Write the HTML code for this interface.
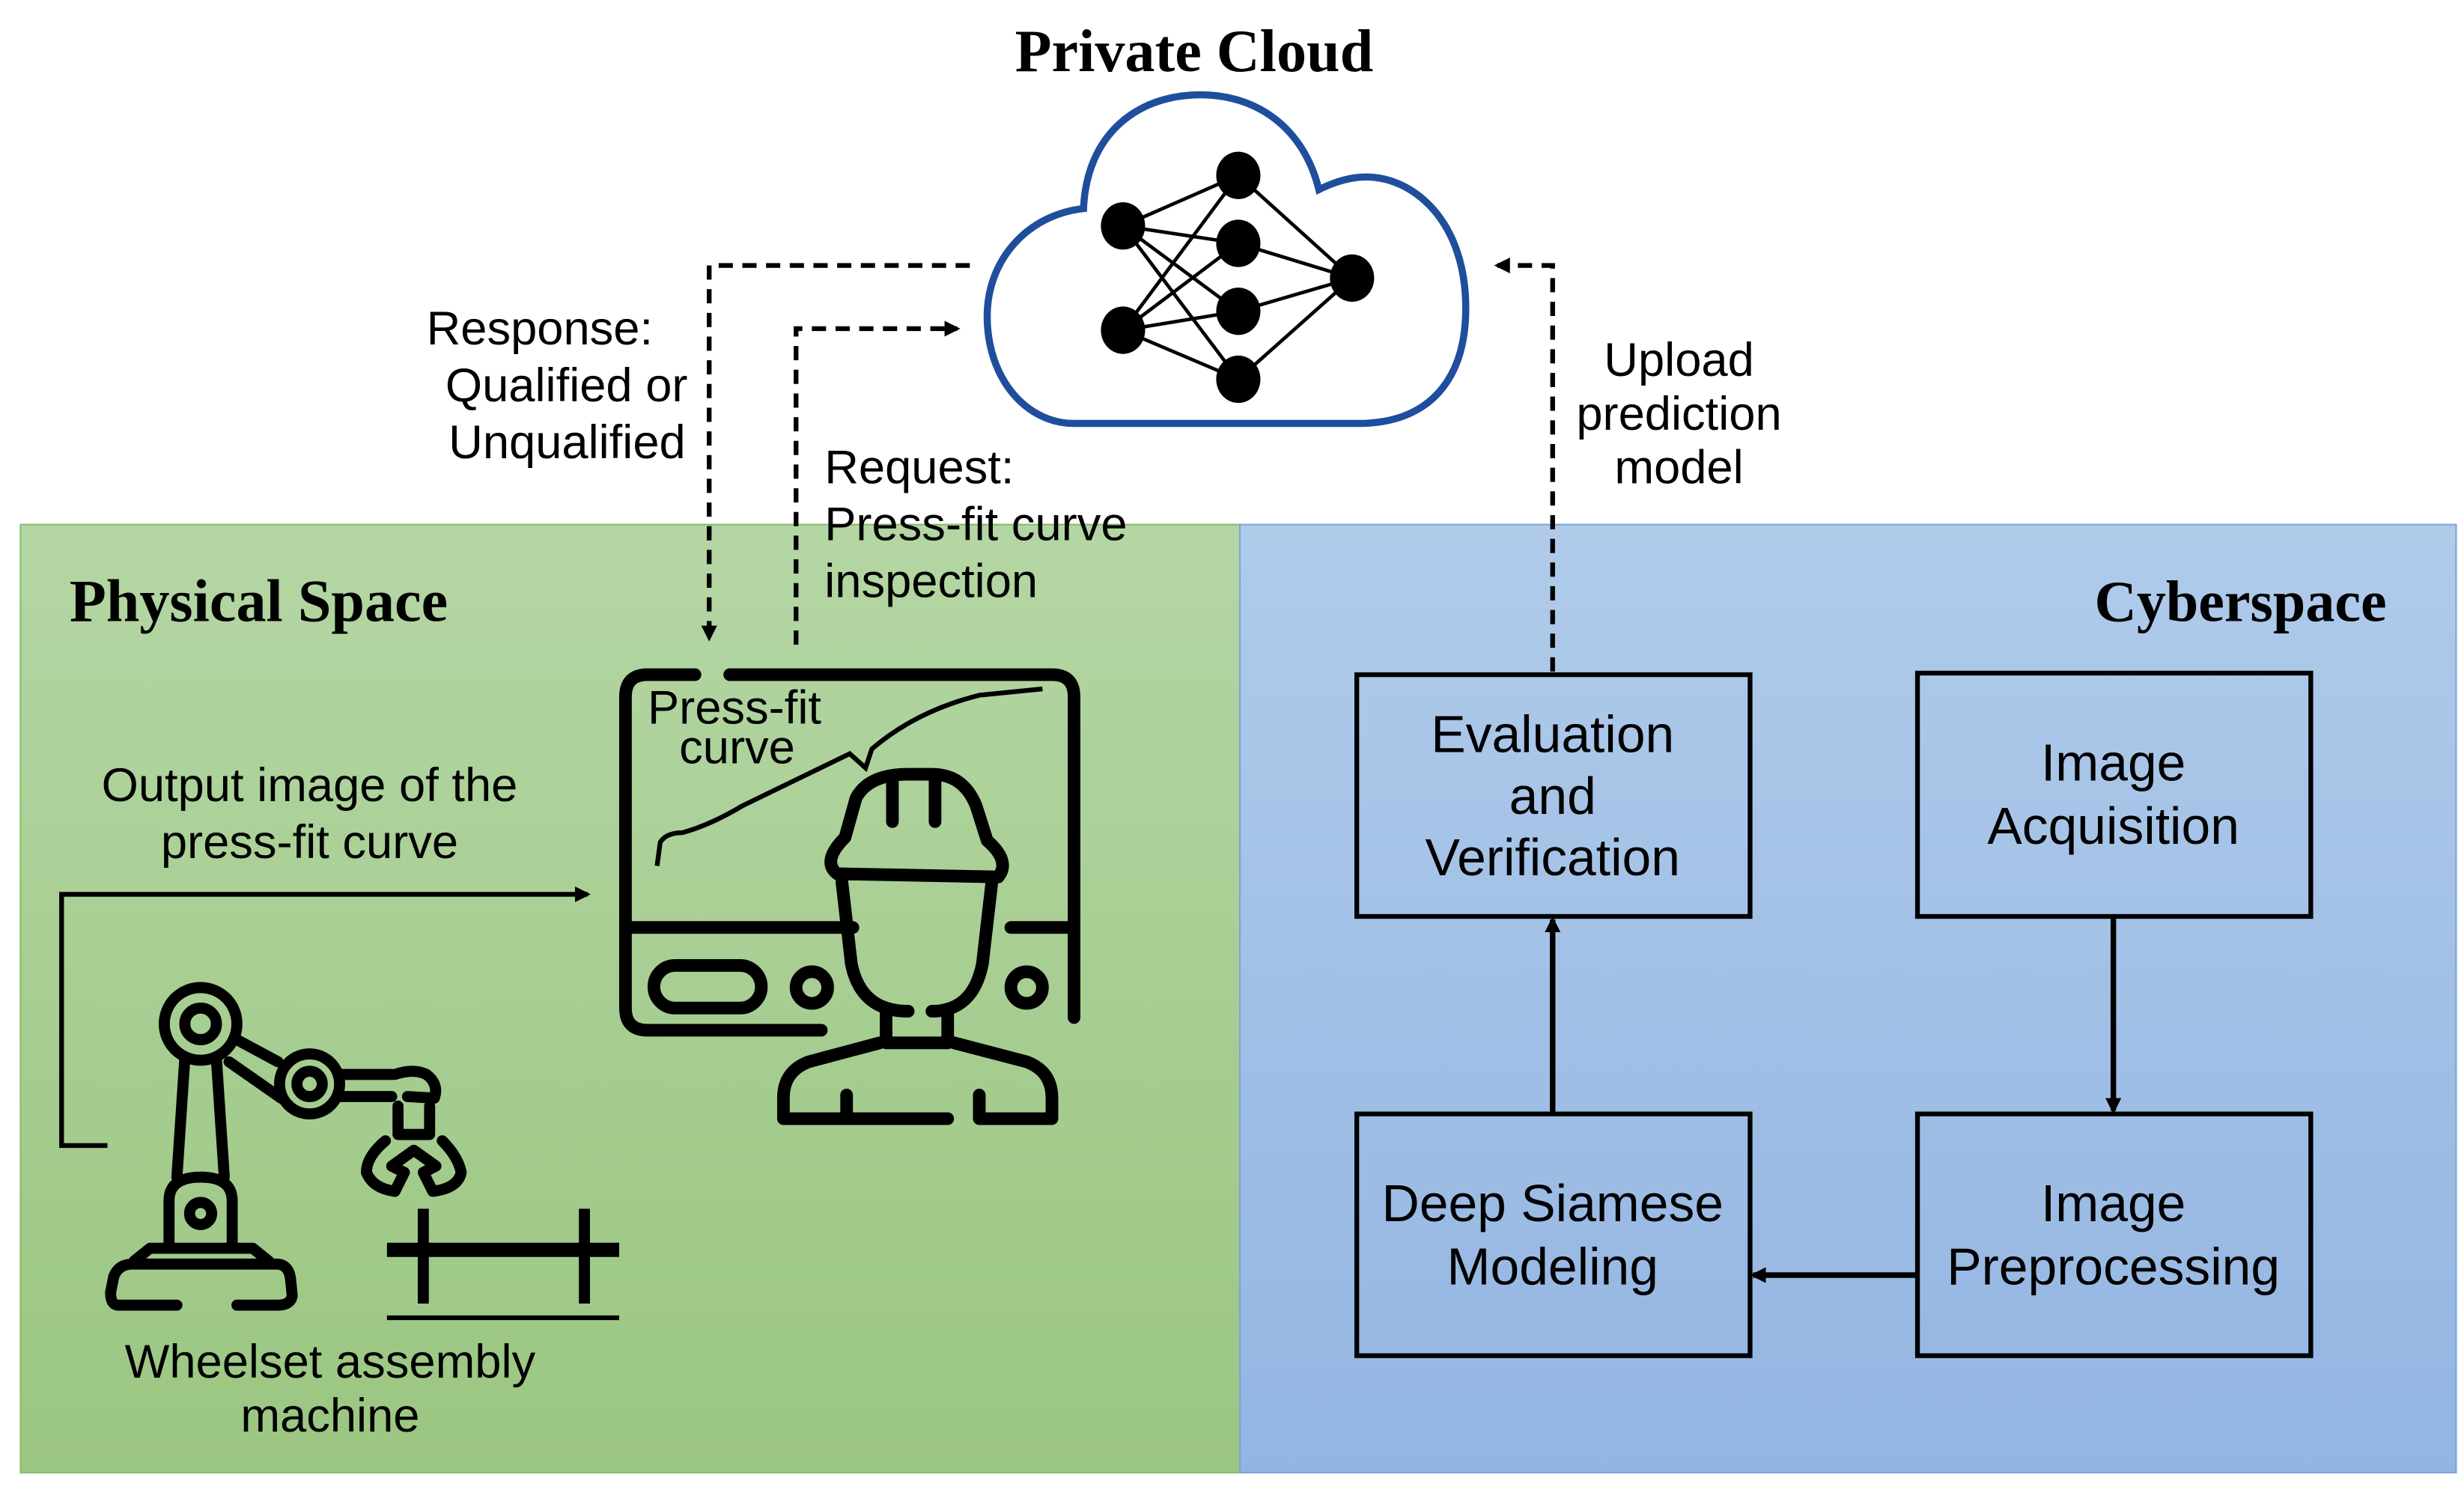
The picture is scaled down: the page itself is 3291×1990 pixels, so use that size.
<!DOCTYPE html>
<html><head><meta charset="utf-8"><style>
html,body{margin:0;padding:0;background:#fff;}
svg{display:block;}
.s{font-family:"Liberation Sans","DejaVu Sans",sans-serif;font-size:30px;fill:#000;}
.b{font-family:"Liberation Sans","DejaVu Sans",sans-serif;font-size:33px;fill:#000;text-anchor:middle;}
.t{font-family:"Liberation Serif",serif;font-weight:bold;fill:#000;}
</style></head><body>
<svg width="3291" height="1990" viewBox="0 0 1560 943" preserveAspectRatio="none" xmlns="http://www.w3.org/2000/svg">
<defs>
<linearGradient id="g" x1="0" y1="0" x2="0" y2="1"><stop offset="0" stop-color="#b4d6a4"/><stop offset="1" stop-color="#9bc681"/></linearGradient>
<linearGradient id="bl" x1="0" y1="0" x2="0" y2="1"><stop offset="0" stop-color="#b0cbea"/><stop offset="1" stop-color="#93b5e2"/></linearGradient>
<marker id="a" markerWidth="10" markerHeight="10" refX="8" refY="5" orient="auto" markerUnits="userSpaceOnUse"><path d="M0,0 L10,5 L0,10 Z" fill="#000"/></marker>
</defs>
<rect x="13" y="332" width="772" height="600" fill="url(#g)" stroke="#86bb6a" stroke-width="1"/>
<rect x="785" y="332" width="770" height="600" fill="url(#bl)" stroke="#7aa4d8" stroke-width="1"/>

<text x="756" y="45" class="t" font-size="38" text-anchor="middle">Private Cloud</text>
<text x="44" y="393" class="t" font-size="38">Physical Space</text>
<text x="1511" y="393" class="t" font-size="37" text-anchor="end">Cyberspace</text>

<!-- cloud -->
<path d="M680,268 L860,268 C905,268 928,240 928,195 C928,140 895,112 865,112 C855,112 845,115 835,120 C825,80 795,60 760,60 C720,60 688,85 686,132 C650,136 625,165 625,200 C625,240 650,268 680,268 Z" fill="#fff" stroke="#1f4e9c" stroke-width="4.5"/>
<g stroke="#000" stroke-width="2.2">
<line x1="711" y1="143" x2="784" y2="111"/><line x1="711" y1="143" x2="784" y2="154"/><line x1="711" y1="143" x2="784" y2="197"/><line x1="711" y1="143" x2="784" y2="240"/>
<line x1="711" y1="209" x2="784" y2="111"/><line x1="711" y1="209" x2="784" y2="154"/><line x1="711" y1="209" x2="784" y2="197"/><line x1="711" y1="209" x2="784" y2="240"/>
<line x1="856" y1="176" x2="784" y2="111"/><line x1="856" y1="176" x2="784" y2="154"/><line x1="856" y1="176" x2="784" y2="197"/><line x1="856" y1="176" x2="784" y2="240"/>
</g>
<g fill="#000">
<ellipse cx="711" cy="143" rx="14" ry="15"/><ellipse cx="711" cy="209" rx="14" ry="15"/>
<ellipse cx="784" cy="111" rx="14" ry="15"/><ellipse cx="784" cy="154" rx="14" ry="15"/><ellipse cx="784" cy="197" rx="14" ry="15"/><ellipse cx="784" cy="240" rx="14" ry="15"/>
<ellipse cx="856" cy="176" rx="14" ry="15"/>
</g>

<!-- dashed connectors -->
<g fill="none" stroke="#000" stroke-width="3" stroke-dasharray="9,6">
<polyline points="614,168 449,168 449,404" marker-end="url(#a)"/>
<polyline points="504,408 504,208 606,208" marker-end="url(#a)"/>
<polyline points="983,425 983,168 948,168" marker-end="url(#a)"/>
</g>
<text class="s" x="270" y="218">Response:</text>
<text class="s" x="282" y="254">Qualified or</text>
<text class="s" x="284" y="290">Unqualified</text>
<text class="s" x="522" y="306">Request:</text>
<text class="s" x="522" y="342">Press-fit curve</text>
<text class="s" x="522" y="378">inspection</text>
<text class="s" x="1063" y="238" text-anchor="middle">Upload</text>
<text class="s" x="1063" y="272" text-anchor="middle">prediction</text>
<text class="s" x="1063" y="306" text-anchor="middle">model</text>

<!-- boxes -->
<g fill="none" stroke="#000" stroke-width="3">
<rect x="859" y="427" width="249" height="153"/>
<rect x="1214" y="426" width="249" height="154"/>
<rect x="859" y="705" width="249" height="153"/>
<rect x="1214" y="705" width="249" height="153"/>
</g>
<text class="b" x="983" y="476">Evaluation</text>
<text class="b" x="983" y="515">and</text>
<text class="b" x="983" y="554">Verification</text>
<text class="b" x="1338" y="494">Image</text>
<text class="b" x="1338" y="534">Acquisition</text>
<text class="b" x="983" y="773">Deep Siamese</text>
<text class="b" x="983" y="813">Modeling</text>
<text class="b" x="1338" y="773">Image</text>
<text class="b" x="1338" y="813">Preprocessing</text>
<g stroke="#000" stroke-width="3.5" fill="none">
<line x1="1338" y1="580" x2="1338" y2="703" marker-end="url(#a)"/>
<line x1="1214" y1="807" x2="1110" y2="807" marker-end="url(#a)"/>
<line x1="983" y1="705" x2="983" y2="582" marker-end="url(#a)"/>
</g>

<!-- physical arrow -->
<polyline points="68,725 39,725 39,566 372,566" fill="none" stroke="#000" stroke-width="3" marker-end="url(#a)"/>
<text class="s" x="196" y="507" text-anchor="middle">Output image of the</text>
<text class="s" x="196" y="543" text-anchor="middle">press-fit curve</text>
<text class="s" x="209" y="872" text-anchor="middle" font-size="33">Wheelset assembly</text>
<text class="s" x="209" y="906" text-anchor="middle" font-size="33">machine</text>

<!-- monitor + worker -->
<g fill="none" stroke="#000" stroke-width="8" stroke-linecap="round" stroke-linejoin="round">
<path d="M440,427 L410,427 Q396,427 396,441 L396,638 Q396,652 410,652 L520,652"/>
<path d="M462,427 L666,427 Q680,427 680,441 L680,644"/>
<line x1="397" y1="587" x2="540" y2="587"/>
<line x1="640" y1="587" x2="678" y2="587"/>
<rect x="414" y="611" width="68" height="27" rx="13.5"/>
<circle cx="514" cy="625" r="10"/>
<circle cx="650" cy="625" r="10"/>
<path d="M530,553 Q520,545 535,530 L542,505 Q550,490 575,490 L590,490 Q610,490 618,510 L625,532 Q640,545 632,555 Z"/>
<line x1="565" y1="493" x2="565" y2="520"/><line x1="592" y1="493" x2="592" y2="520"/>
<path d="M533,558 L539,610 Q545,640 575,640"/>
<path d="M628,558 L622,610 Q616,640 590,640"/>
<path d="M561,641 L561,660 L600,660 L600,641"/>
<path d="M557,660 L512,672 Q496,678 496,695 L496,708 L600,708"/>
<path d="M604,660 L650,672 Q666,678 666,695 L666,708 L620,708 L620,693"/>
<line x1="536" y1="693" x2="536" y2="706"/>
</g>
<path d="M416,548 L418,533 Q422,527 432,527 Q450,522 470,510 L538,477 L548,486 L552,474 Q580,450 620,440 L660,436" fill="none" stroke="#000" stroke-width="3"/>
<text class="s" x="410" y="458" font-size="31">Press-fit</text>
<text class="s" x="430" y="483" font-size="31">curve</text>

<!-- robot arm -->
<g fill="none" stroke="#000" stroke-width="7" stroke-linecap="round" stroke-linejoin="round">
<path d="M112,826 L75,826 Q70,826 70,818 L72,808 Q75,800 84,800 L175,800 Q183,800 184,810 L185,820 Q184,826 176,826 L150,826"/>
<path d="M85,798 L95,790 L160,790 L170,798"/>
<path d="M107,788 L107,760 Q107,745 127,745 Q147,745 147,760 L147,788"/>
<circle cx="127" cy="768" r="7"/>
<path d="M112,745 L117,670 M142,745 L137,670"/>
<circle cx="127" cy="648" r="23"/><circle cx="127" cy="648" r="10"/>
<path d="M150,658 L176,672 M145,672 L178,695"/>
<circle cx="196" cy="686" r="19"/><circle cx="196" cy="686" r="8"/>
<path d="M215,680 L248,680 M215,694 L248,694"/>
<path d="M250,680 Q262,676 270,680 Q278,686 275,695 L258,694"/>
<path d="M252,700 L252,718 L272,718 L272,700"/>
<path d="M244,722 Q232,732 232,742 Q236,752 250,754 L256,742 L248,738 L262,728 L276,738 L268,742 L274,754 Q290,752 292,742 Q290,732 280,722"/>
</g>
<!-- wheelset -->
<g stroke="#000" fill="none">
<line x1="245" y1="791" x2="392" y2="791" stroke-width="9"/>
<line x1="268" y1="765" x2="268" y2="825" stroke-width="7"/>
<line x1="370" y1="765" x2="370" y2="825" stroke-width="7"/>
<line x1="245" y1="834" x2="392" y2="834" stroke-width="3"/>
</g>
</svg>
</body></html>
